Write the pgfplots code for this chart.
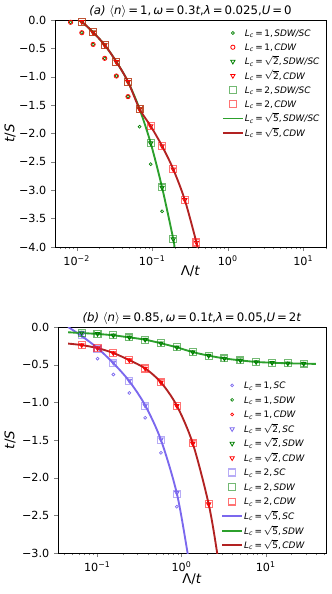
\documentclass[border=0pt]{standalone}
\usepackage{fontspec}
\setmainfont{DejaVu Sans}
\usepackage{pgfplots}
\pgfplotsset{compat=1.18}

\definecolor{mgreen}{HTML}{008000}
\definecolor{lgreen}{HTML}{2CA02C}
\definecolor{mred}{HTML}{FF0000}
\definecolor{lred}{HTML}{B22222}
\definecolor{mblue}{HTML}{7B68EE}

\newcommand{\Lc}{\textit{L}\textsubscript{\textit{c}}\,=\,}
\newcommand{\rtwo}{$\sqrt{\mbox{2}}$}
\newcommand{\rfive}{$\sqrt{\mbox{5}}$}

\pgfplotsset{
  paxis/.style={
    scale only axis,
    tick align=outside, xtick pos=bottom, ytick pos=left,
    major tick length=3pt, minor tick length=1.7pt,
    axis line style={line width=0.6pt},
    ticklabel style={font=\fontsize{8.4}{10}\selectfont},
    label style={font=\fontsize{11.7}{13}\selectfont},
    every axis title shift=0pt,
    title style={font=\fontsize{8.8}{10}\selectfont, at={(0.5,1)}, anchor=base, yshift=4.3pt},
    ylabel={\textit{t}/\textit{S}},
    xlabel={Λ/\textit{t}},
    every axis x label/.style={at={(axis description cs:0.5,0)}, anchor=center},
    every axis y label/.style={at={(axis description cs:0,0.5)}, anchor=center, rotate=90},
    legend cell align=left,
    legend style={draw=none, fill=none, inner sep=0pt, row sep=0.2pt,
      font=\fontsize{6.7}{8}\selectfont,
      nodes={inner sep=0.75pt, text height=7pt, text depth=2pt}},
  },
  mimg/.style={legend image code/.code={\draw[mark repeat=2,mark phase=2,##1] plot coordinates {(0pt,0pt) (7.5pt,0pt) (15pt,0pt)};}},
  mkcA/.style={only marks, mark=o, mark size=1.1pt, line width=0.5pt, mimg},
  mkcB/.style={only marks, mark=o, mark size=1.6pt, line width=0.6pt, mimg},
  mktr/.style={only marks, mark=triangle, mark size=1.9pt, line width=0.6pt,
    mark options={rotate=180}, mimg},
  mksq/.style={only marks, mark=square, mark size=2.6pt, line width=0.9pt,
    mark options={draw opacity=0.55}, mimg},
  mkln/.style={no marks, smooth, line width=1.4pt, mimg},
}

\begin{document}
\begin{tikzpicture}
\begin{axis}[paxis, xmode=log, anchor=south west,
  at={(41.25pt,-185.25pt)}, width=203.25pt, height=170.25pt,
  xmin=0.00516, xmax=20, ymin=-4, ymax=0,
  xtick={0.01,0.1,1,10},
  xticklabels={10\textsuperscript{−2},10\textsuperscript{−1},10\textsuperscript{0},10\textsuperscript{1}},
  minor xtick={0.006,0.007,0.008,0.009,0.02,0.03,0.04,0.05,0.06,0.07,0.08,0.09,0.2,0.3,0.4,0.5,0.6,0.7,0.8,0.9,2,3,4,5,6,7,8,9,20},
  ytick={-4,-3.5,-3,-2.5,-2,-1.5,-1,-0.5,0},
  yticklabels={−4.0,−3.5,−3.0,−2.5,−2.0,−1.5,−1.0,−0.5,0.0},
  xlabel style={yshift=-18pt},
  ylabel style={yshift=33.75pt},
  title={\textit{(a)} $\langle$\textit{n}$\rangle$\,=\,1,\,\textit{ω}\,=\,0.3\textit{t},\textit{λ}\,=\,0.025,\textit{U}\,=\,0},
  legend style={at={(0.615,0.975)}, anchor=north west},
]
\addplot[mkcA, mgreen] coordinates {(0.0083,-0.04) (0.0117,-0.224) (0.0165,-0.43) (0.0235,-0.675) (0.0335,-0.987) (0.0478,-1.35) (0.068,-1.88) (0.0955,-2.54) (0.135,-3.37)};
\addlegendentry{\Lc 1,\,\textit{SDW/SC}}
\addplot[mkcB, mred] coordinates {(0.0083,-0.04) (0.0117,-0.224) (0.0165,-0.43) (0.0235,-0.675) (0.0335,-0.987) (0.0478,-1.35)};
\addlegendentry{\Lc 1,\,\textit{CDW}}
\addplot[mktr, mgreen] coordinates {(0.0117,-0.03) (0.0165,-0.217) (0.0235,-0.44) (0.0335,-0.735) (0.0478,-1.087) (0.068,-1.568) (0.0955,-2.17) (0.135,-2.95) (0.19,-3.86)};
\addlegendentry{\Lc\rtwo,\,\textit{SDW/SC}}
\addplot[mktr, mred] coordinates {(0.0117,-0.03) (0.0165,-0.217) (0.0235,-0.44) (0.0335,-0.735) (0.0478,-1.087) (0.068,-1.568) (0.0955,-1.87) (0.135,-2.22) (0.19,-2.63) (0.27,-3.17) (0.385,-3.92)};
\addlegendentry{\Lc\rtwo,\,\textit{CDW}}
\addplot[mksq, mgreen] coordinates {(0.0117,-0.03) (0.0165,-0.217) (0.0235,-0.44) (0.0335,-0.735) (0.0478,-1.087) (0.068,-1.568) (0.0955,-2.17) (0.135,-2.95) (0.19,-3.86)};
\addlegendentry{\Lc 2,\,\textit{SDW/SC}}
\addplot[mksq, mred] coordinates {(0.0117,-0.03) (0.0165,-0.217) (0.0235,-0.44) (0.0335,-0.735) (0.0478,-1.087) (0.068,-1.568) (0.0955,-1.87) (0.135,-2.22) (0.19,-2.63) (0.27,-3.17) (0.385,-3.92)};
\addlegendentry{\Lc 2,\,\textit{CDW}}
\addplot[mkln, lgreen] coordinates {(0.0104,0.0) (0.0117,-0.03) (0.0165,-0.217) (0.0235,-0.44) (0.0335,-0.735) (0.0478,-1.087) (0.068,-1.568) (0.0955,-2.17) (0.135,-2.95) (0.19,-3.86) (0.196,-4.0)};
\addlegendentry{\Lc\rfive,\,\textit{SDW/SC}}
\addplot[mkln, lred] coordinates {(0.0104,0.0) (0.0117,-0.03) (0.0165,-0.217) (0.0235,-0.44) (0.0335,-0.735) (0.0478,-1.087) (0.068,-1.568) (0.0955,-1.87) (0.135,-2.22) (0.19,-2.63) (0.27,-3.17) (0.385,-3.92) (0.39,-4.0)};
\addlegendentry{\Lc\rfive,\,\textit{CDW}}
\end{axis}

\begin{axis}[paxis, xmode=log, anchor=south west,
  at={(43.5pt,-414.75pt)}, width=201pt, height=169.5pt,
  xmin=0.0341, xmax=52, ymin=-3, ymax=0,
  xtick={0.1,1,10},
  xticklabels={10\textsuperscript{−1},10\textsuperscript{0},10\textsuperscript{1}},
  minor xtick={0.04,0.05,0.06,0.07,0.08,0.09,0.2,0.3,0.4,0.5,0.6,0.7,0.8,0.9,2,3,4,5,6,7,8,9,20,30,40,50},
  ytick={-3,-2.5,-2,-1.5,-1,-0.5,0},
  yticklabels={−3.0,−2.5,−2.0,−1.5,−1.0,−0.5,0.0},
  xlabel style={yshift=-19.5pt},
  ylabel style={yshift=36pt},
  title={\textit{(b)} $\langle$\textit{n}$\rangle$\,=\,0.85,\,\textit{ω}\,=\,0.1\textit{t},\textit{λ}\,=\,0.05,\textit{U}\,=\,2\textit{t}},
  legend style={at={(0.608,0.774)}, anchor=north west, row sep=0.4pt},
]
\addplot[mkcA, mblue] coordinates {(0.1006,-0.42) (0.155,-0.63) (0.24,-0.875) (0.37,-1.205) (0.57,-1.67) (0.88,-2.385)};
\addlegendentry{\Lc 1,\,\textit{SC}}
\addplot[mkcA, mgreen] coordinates {(0.0652,-0.075) (0.1006,-0.09) (0.155,-0.11) (0.24,-0.138) (0.37,-0.168) (0.57,-0.216) (0.88,-0.27) (1.36,-0.333) (2.1,-0.38) (3.23,-0.417) (5.0,-0.443) (7.7,-0.464) (11.9,-0.474) (18.3,-0.482) (28.3,-0.486)};
\addlegendentry{\Lc 1,\,\textit{SDW}}
\addplot[mkcA, mred] coordinates {(0.0652,-0.24) (0.1006,-0.28) (0.155,-0.345) (0.24,-0.44) (0.37,-0.55) (0.57,-0.735) (0.88,-1.045) (1.36,-1.545) (2.1,-2.35)};
\addlegendentry{\Lc 1,\,\textit{CDW}}
\addplot[mktr, mblue] coordinates {(0.0652,-0.10) (0.1006,-0.28) (0.155,-0.47) (0.24,-0.71) (0.37,-1.04) (0.57,-1.49) (0.88,-2.2)};
\addlegendentry{\Lc\rtwo,\,\textit{SC}}
\addplot[mktr, mgreen] coordinates {(0.0652,-0.075) (0.1006,-0.09) (0.155,-0.11) (0.24,-0.138) (0.37,-0.168) (0.57,-0.216) (0.88,-0.27) (1.36,-0.333) (2.1,-0.38) (3.23,-0.417) (5.0,-0.443) (7.7,-0.464) (11.9,-0.474) (18.3,-0.482) (28.3,-0.486)};
\addlegendentry{\Lc\rtwo,\,\textit{SDW}}
\addplot[mktr, mred] coordinates {(0.0652,-0.24) (0.1006,-0.28) (0.155,-0.345) (0.24,-0.44) (0.37,-0.55) (0.57,-0.735) (0.88,-1.045) (1.36,-1.545) (2.1,-2.35)};
\addlegendentry{\Lc\rtwo,\,\textit{CDW}}
\addplot[mksq, mblue] coordinates {(0.0652,-0.11) (0.1006,-0.29) (0.155,-0.48) (0.24,-0.72) (0.37,-1.045) (0.57,-1.50) (0.88,-2.215)};
\addlegendentry{\Lc 2,\,\textit{SC}}
\addplot[mksq, mgreen] coordinates {(0.0652,-0.075) (0.1006,-0.09) (0.155,-0.11) (0.24,-0.138) (0.37,-0.168) (0.57,-0.216) (0.88,-0.27) (1.36,-0.333) (2.1,-0.38) (3.23,-0.417) (5.0,-0.443) (7.7,-0.464) (11.9,-0.474) (18.3,-0.482) (28.3,-0.486)};
\addlegendentry{\Lc 2,\,\textit{SDW}}
\addplot[mksq, mred] coordinates {(0.0652,-0.24) (0.1006,-0.28) (0.155,-0.345) (0.24,-0.44) (0.37,-0.55) (0.57,-0.735) (0.88,-1.045) (1.36,-1.545) (2.1,-2.35)};
\addlegendentry{\Lc 2,\,\textit{CDW}}
\addplot[mkln, mblue] coordinates {(0.045,0.0) (0.0652,-0.12) (0.1006,-0.28) (0.155,-0.48) (0.24,-0.72) (0.37,-1.04) (0.57,-1.50) (0.88,-2.21) (1.18,-3.0) (1.25,-3.2)};
\addlegendentry{\Lc\rfive,\,\textit{SC}}
\addplot[mkln, lgreen] coordinates {(0.045,-0.07) (0.0652,-0.08) (0.1006,-0.092) (0.155,-0.11) (0.24,-0.138) (0.37,-0.168) (0.57,-0.216) (0.88,-0.27) (1.36,-0.333) (2.1,-0.38) (3.23,-0.417) (5.0,-0.443) (7.7,-0.464) (11.9,-0.474) (18.3,-0.482) (28.3,-0.486) (39.4,-0.49)};
\addlegendentry{\Lc\rfive,\,\textit{SDW}}
\addplot[mkln, lred] coordinates {(0.045,-0.22) (0.0652,-0.24) (0.1006,-0.28) (0.155,-0.345) (0.24,-0.44) (0.37,-0.55) (0.57,-0.735) (0.88,-1.045) (1.36,-1.545) (2.1,-2.35) (2.65,-3.0) (2.9,-3.35)};
\addlegendentry{\Lc\rfive,\,\textit{CDW}}
\end{axis}
\pgfresetboundingbox
\path[use as bounding box] (0pt,0pt) rectangle (249pt,-445.5pt);
\end{tikzpicture}
\end{document}
